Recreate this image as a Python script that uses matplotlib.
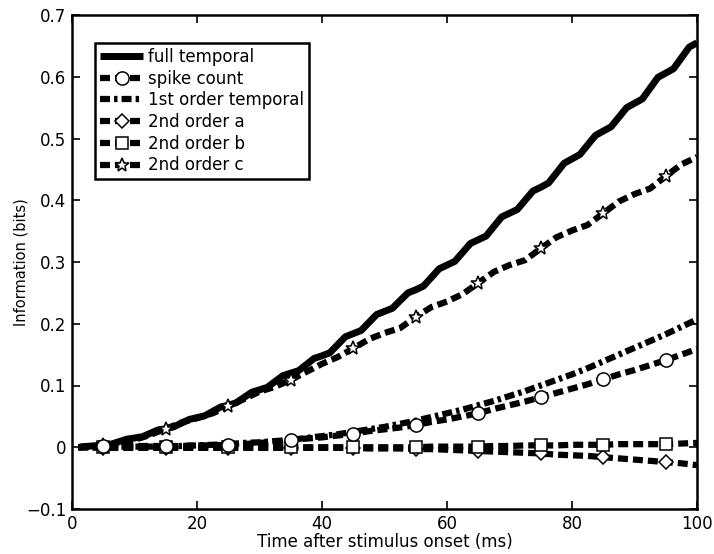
import numpy as np
import matplotlib
matplotlib.use("Agg")
import matplotlib.pyplot as plt

# ---------------- data ----------------
# fine time grid for the wavy "full temporal" curve (ms)
t_full = [1.25, 2.5, 3.75, 5, 6.25, 7.5, 8.75, 10, 11.25, 12.5, 13.75, 15, 16.25, 17.5, 18.75,
          20, 21.25, 22.5, 23.75, 25, 26.25, 27.5, 28.75, 30, 31.25, 32.5, 33.75, 35, 36.25,
          37.5, 38.75, 40, 41.25, 42.5, 43.75, 45, 46.25, 47.5, 48.75, 50, 51.25, 52.5, 53.75,
          55, 56.25, 57.5, 58.75, 60, 61.25, 62.5, 63.75, 65, 66.25, 67.5, 68.75, 70, 71.25,
          72.5, 73.75, 75, 76.25, 77.5, 78.75, 80, 81.25, 82.5, 83.75, 85, 86.25, 87.5, 88.75,
          90, 91.25, 92.5, 93.75, 95, 96.25, 97.5, 98.75, 100]
full_temporal = [0.0005, 0.0015, 0.0025, 0.003, 0.005, 0.009, 0.013, 0.015, 0.017, 0.0225, 0.028,
                 0.030, 0.033, 0.039, 0.045, 0.048, 0.051, 0.058, 0.065, 0.068, 0.072, 0.0805,
                 0.089, 0.093, 0.097, 0.1065, 0.116, 0.120, 0.124, 0.134, 0.144, 0.148, 0.153,
                 0.166, 0.179, 0.184, 0.189, 0.202, 0.215, 0.220, 0.225, 0.2375, 0.250, 0.255,
                 0.261, 0.275, 0.289, 0.295, 0.301, 0.3155, 0.330, 0.336, 0.342, 0.3575, 0.373,
                 0.379, 0.385, 0.400, 0.415, 0.421, 0.428, 0.444, 0.460, 0.467, 0.474, 0.4895,
                 0.505, 0.512, 0.519, 0.5345, 0.550, 0.557, 0.564, 0.5815, 0.599, 0.606, 0.613,
                 0.6305, 0.648, 0.655]

# coarse time grid for the other curves (ms)
t = [1, 2.5, 5, 7.5, 10, 12.5, 15, 17.5, 20, 22.5, 25, 27.5, 30, 32.5, 35, 37.5, 40, 42.5,
     45, 47.5, 50, 52.5, 55, 57.5, 60, 62.5, 65, 67.5, 70, 72.5, 75, 77.5, 80, 82.5, 85,
     87.5, 90, 92.5, 95, 97.5, 100]
spike_count = [0.000, 0.001, 0.002, 0.002, 0.002, 0.002, 0.002, 0.002, 0.003, 0.003, 0.004,
               0.005, 0.007, 0.009, 0.012, 0.014, 0.016, 0.019, 0.022, 0.026, 0.029, 0.032,
               0.036, 0.041, 0.045, 0.050, 0.055, 0.062, 0.068, 0.074, 0.081, 0.088, 0.095,
               0.102, 0.110, 0.118, 0.125, 0.133, 0.141, 0.150, 0.159]
first_order = [0.000, 0.000, 0.000, 0.001, 0.001, 0.001, 0.002, 0.002, 0.003, 0.004, 0.005,
               0.007, 0.008, 0.010, 0.012, 0.015, 0.018, 0.021, 0.025, 0.029, 0.033, 0.038,
               0.043, 0.049, 0.055, 0.061, 0.068, 0.075, 0.083, 0.091, 0.100, 0.109, 0.118,
               0.128, 0.139, 0.150, 0.161, 0.172, 0.183, 0.195, 0.207]
second_a = [0.000, 0.000, -0.001, -0.001, -0.001, -0.001, -0.001, -0.001, -0.001, -0.001,
            -0.001, -0.001, -0.001, -0.001, -0.001, -0.001, -0.001, -0.001, -0.001, -0.002,
            -0.002, -0.002, -0.003, -0.003, -0.004, -0.005, -0.006, -0.007, -0.008, -0.009,
            -0.010, -0.012, -0.013, -0.014, -0.016, -0.018, -0.020, -0.022, -0.024, -0.026,
            -0.029]
second_b = [0.000, 0.000, 0.000, 0.000, 0.000, 0.000, 0.000, 0.000, 0.000, 0.000, 0.000,
            0.000, 0.000, 0.000, 0.000, 0.000, 0.000, 0.000, 0.000, 0.000, 0.000, 0.000,
            0.000, 0.001, 0.001, 0.001, 0.001, 0.002, 0.002, 0.003, 0.003, 0.003, 0.004,
            0.004, 0.004, 0.005, 0.005, 0.005, 0.005, 0.006, 0.007]
second_c = [0.000, 0.001, 0.003, 0.007, 0.012, 0.020, 0.030, 0.040, 0.047, 0.055, 0.066,
            0.078, 0.090, 0.098, 0.109, 0.122, 0.135, 0.146, 0.160, 0.175, 0.185, 0.193,
            0.211, 0.227, 0.236, 0.248, 0.266, 0.284, 0.295, 0.303, 0.322, 0.340, 0.351,
            0.360, 0.379, 0.398, 0.410, 0.419, 0.439, 0.458, 0.470]

labels = ["full temporal", "spike count", "1st order temporal",
          "2nd order a", "2nd order b", "2nd order c"]
x_ticks = [0, 20, 40, 60, 80, 100]
y_ticks = [-0.1, 0, 0.1, 0.2, 0.3, 0.4, 0.5, 0.6, 0.7]
y_tick_labels = ["\u22120.1", "0", "0.1", "0.2", "0.3", "0.4", "0.5", "0.6", "0.7"]

# ---------------- style ----------------
fs = 12
plt.rcParams["font.family"] = ["DejaVu Sans"]
plt.rcParams["font.size"] = fs

fig = plt.figure(figsize=(7.14, 5.54), dpi=100)
ax = fig.add_axes([72 / 714, 1 - 509 / 554, 625 / 714, 494 / 554])

lw = 4.5
dash = (0, (1.6, 0.8))
dashdot = (0, (1.6, 0.65, 0.55, 0.65))
mk = dict(markerfacecolor="white", markeredgecolor="black", markeredgewidth=1.1)
mev = (2, 4)

h_full, = ax.plot(t_full, full_temporal, color="black", lw=lw + 0.5, solid_capstyle="butt",
                  solid_joinstyle="round", zorder=3)
h_first, = ax.plot(t, first_order, color="black", lw=lw, ls=dashdot, zorder=3)
h_a, = ax.plot(t, second_a, color="black", lw=lw, ls=dash, marker="D", markersize=7,
               markevery=mev, zorder=3, **mk)
h_b, = ax.plot(t, second_b, color="black", lw=lw, ls=dash, marker="s", markersize=8.5,
               markevery=mev, zorder=4, **mk)
h_c, = ax.plot(t, second_c, color="black", lw=lw, ls=dash, marker="*", markersize=10,
               markevery=mev, zorder=4, **mk)
h_spike, = ax.plot(t, spike_count, color="black", lw=lw, ls=dash, marker="o", markersize=9.5,
                   markevery=mev, zorder=5, **mk)

ax.set_xlim(0, 100)
ax.set_ylim(-0.1, 0.7)
ax.set_xticks(x_ticks)
ax.set_yticks(y_ticks)
ax.set_yticklabels(y_tick_labels)
ax.tick_params(direction="in", length=6, width=1.2, top=True, right=True, pad=4,
               labelsize=fs)
for s in ax.spines.values():
    s.set_linewidth(1.8)

ax.set_xlabel("Time after stimulus onset (ms)", labelpad=0)
ax.set_ylabel("Information (bits)", fontsize=10.5)
ax.yaxis.set_label_coords((29 - 72) / 625, 0.5)

leg = ax.legend([h_full, h_spike, h_first, h_a, h_b, h_c], labels,
                loc="upper left", bbox_to_anchor=(23 / 625, (509 - 43) / 494),
                borderaxespad=0, fancybox=False, framealpha=1, edgecolor="black",
                handlelength=2.6, handletextpad=0.25, labelspacing=0.22,
                borderpad=0.3, fontsize=fs, numpoints=1)
leg.get_frame().set_linewidth(1.8)

fig.savefig("out.png", dpi=100)
